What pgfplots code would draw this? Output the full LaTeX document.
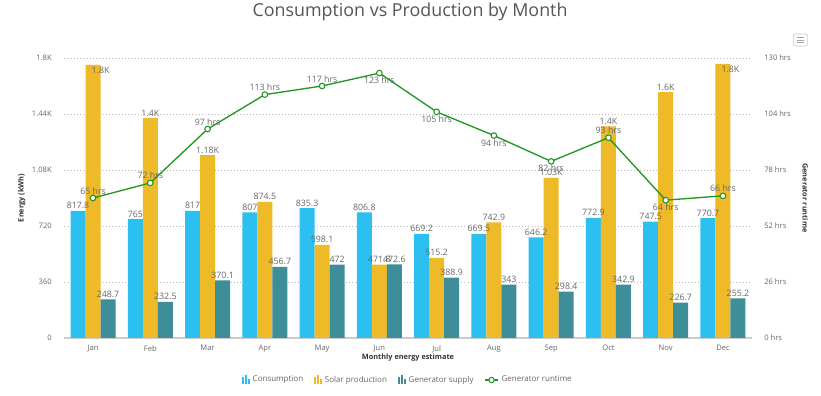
\documentclass[border=0pt]{standalone}
\usepackage{pgfplots}
\pgfplotsset{compat=1.18}
\usepackage{pgfplotstable}
\usepackage{fontspec}
\setmainfont{Open Sans}
\definecolor{cons}{RGB}{43,192,239}
\definecolor{solar}{RGB}{239,186,40}
\definecolor{gen}{RGB}{62,142,154}
\definecolor{runl}{RGB}{34,150,34}
\definecolor{txt}{RGB}{102,102,102}
\definecolor{ttl}{RGB}{85,85,85}

\pgfplotstableread{
x y lab
0 817.8 817.8
1 765 765
2 817 817
3 807 807
4 835.3 835.3
5 806.8 806.8
6 669.2 669.2
7 669.5 669.5
8 646.2 646.2
9 772.9 772.9
10 747.5 747.5
11 770.7 770.7
}\cons

\pgfplotstableread{
x y lab
0 1755 {}
1 1414 1.4K
2 1176 1.18K
3 874.5 874.5
4 598.1 598.1
5 471.8 471.8
6 515.2 515.2
7 742.9 742.9
8 1030 1.03K
9 1360 1.4K
10 1581 1.6K
11 1762 {}
}\solar

\pgfplotstableread{
x y lab
0 1755 1.8K
11 1762 1.8K
}\solartop

\pgfplotstableread{
x y lab
0 248.7 248.7
1 232.5 232.5
2 370.1 370.1
3 456.7 456.7
4 472 472
5 472.6 472.6
6 388.9 388.9
7 343 343
8 298.4 298.4
9 342.9 342.9
10 226.7 226.7
11 255.2 255.2
}\gen

\pgfplotstableread{
x y
0 65
1 72
2 97
3 113
4 117
5 123
6 105
7 94
8 82
9 93
10 64
11 66
}\runtime

\pgfplotstableread{
x y lab
0 65 {65 hrs}
1 72 {72 hrs}
2 97 {97 hrs}
3 113 {113 hrs}
4 117 {117 hrs}
9 93 {93 hrs}
11 66 {66 hrs}
}\runabove

\pgfplotstableread{
x y lab
5 123 {123 hrs}
6 105 {105 hrs}
7 94 {94 hrs}
8 82 {82 hrs}
10 64 {64 hrs}
}\runbelow

\pgfplotsset{
  barleg/.style={legend image code/.code={
    \fill[##1,draw=none] (0pt,-2.8pt) rectangle (1.7pt,2pt);
    \fill[##1,draw=none] (2.3pt,-2.8pt) rectangle (4pt,3.5pt);
    \fill[##1,draw=none] (4.6pt,-2.8pt) rectangle (6.3pt,0.5pt);
  }},
  lblstyle/.style={
    nodes near coords,
    point meta=explicit symbolic,
    every node near coord/.append style={font=\fontsize{6.6}{7}\selectfont, text=txt, inner sep=1.2pt},
  },
}

\begin{document}
\begin{tikzpicture}
\useasboundingbox (0,0) rectangle (615.75pt,297pt);
\node[font=\fontsize{13.4}{15}\selectfont, text=ttl] at (307.5pt,288pt) {Consumption vs Production by Month};
% menu icon
\draw[gray!45, rounded corners=1.5pt, line width=0.5pt] (595pt,262.5pt) rectangle (605.5pt,271.5pt);
\foreach \yy in {264.8pt,267pt,269.2pt} \draw[gray!70, line width=0.7pt] (597.5pt,\yy) -- (603pt,\yy);

\begin{axis}[
  at={(48.3pt,43.5pt)}, anchor=south west,
  scale only axis, width=515.4pt, height=210pt,
  xmin=-0.5, xmax=11.5, ymin=0, ymax=1800,
  axis x line*=bottom, axis y line*=left,
  x axis line style={draw=gray!40, line width=0.8pt, -},
  y axis line style={draw=none},
  xtick={0,...,11}, xticklabels={Jan,Feb,Mar,Apr,May,Jun,Jul,Aug,Sep,Oct,Nov,Dec},
  ytick={0,360,720,1080,1440,1800}, yticklabels={0,360,720,1.08K,1.44K,1.8K},
  major tick length=0pt,
  tick label style={font=\fontsize{5.7}{6}\selectfont, text=txt},
  yticklabel style={xshift=-6pt},
  xticklabel style={yshift=-2pt},
  ymajorgrids, grid style={dotted, gray!55, line width=0.5pt},
  xlabel={Monthly energy estimate}, ylabel={Energy (kWh)},
  label style={font=\fontsize{5.5}{6}\selectfont\bfseries, text=black!80},
  xlabel style={yshift=6pt},
  ylabel style={yshift=-2pt},
  ybar=0pt, bar width=11.25pt,
  clip=false,
]
\addplot[fill=cons, draw=none, lblstyle] table[x=x, y=y, meta=lab] {\cons};
\addplot[fill=solar, draw=none, lblstyle] table[x=x, y=y, meta=lab] {\solar};
\addplot[fill=gen, draw=none, lblstyle] table[x=x, y=y, meta=lab] {\gen};
\addplot[only marks, mark=none, draw=none, forget plot, lblstyle,
  every node near coord/.append style={anchor=north, yshift=-0.5pt}] table[x=x, y=y, meta=lab] {\solartop};
\end{axis}

\begin{axis}[
  at={(48.3pt,43.5pt)}, anchor=south west,
  scale only axis, width=515.4pt, height=210pt,
  xmin=-0.5, xmax=11.5, ymin=0, ymax=130,
  axis x line=none, axis y line*=right,
  y axis line style={draw=none},
  ytick={0,26,52,78,104,130},
  yticklabels={0 hrs,26 hrs,52 hrs,78 hrs,104 hrs,130 hrs},
  major tick length=0pt,
  tick label style={font=\fontsize{5.7}{6}\selectfont, text=txt},
  yticklabel style={xshift=6pt},
  ylabel={Generator runtime},
  ylabel style={font=\fontsize{5.5}{6}\selectfont\bfseries, text=black!80, rotate=180, yshift=2pt},
  clip=false,
  legend style={at={(0.5,-0.15)}, anchor=center, draw=none, fill=none,
    font=\fontsize{6}{7}\selectfont, text=txt, legend columns=4,
    /tikz/every even column/.append style={column sep=6pt}},
  legend cell align=left,
]
\addlegendimage{barleg, fill=cons}
\addlegendentry{Consumption}
\addlegendimage{barleg, fill=solar}
\addlegendentry{Solar production}
\addlegendimage{barleg, fill=gen}
\addlegendentry{Generator supply}
\addplot[runl, line width=1pt, mark=*, mark size=2.1pt, mark options={fill=white, draw=runl, line width=0.8pt},
  legend image code/.code={
    \draw[runl, line width=1pt] (0pt,0pt) -- (10pt,0pt);
    \draw[runl, fill=white, line width=0.8pt] (5pt,0pt) circle (2pt);
  }] table[x=x, y=y] {\runtime};
\addlegendentry{Generator runtime}
\addplot[only marks, mark=none, draw=none, forget plot, lblstyle,
  every node near coord/.append style={anchor=south, yshift=1.5pt}] table[x=x, y=y, meta=lab] {\runabove};
\addplot[only marks, mark=none, draw=none, forget plot, lblstyle,
  every node near coord/.append style={anchor=north, yshift=-1.5pt}] table[x=x, y=y, meta=lab] {\runbelow};
\end{axis}
\end{tikzpicture}
\end{document}
